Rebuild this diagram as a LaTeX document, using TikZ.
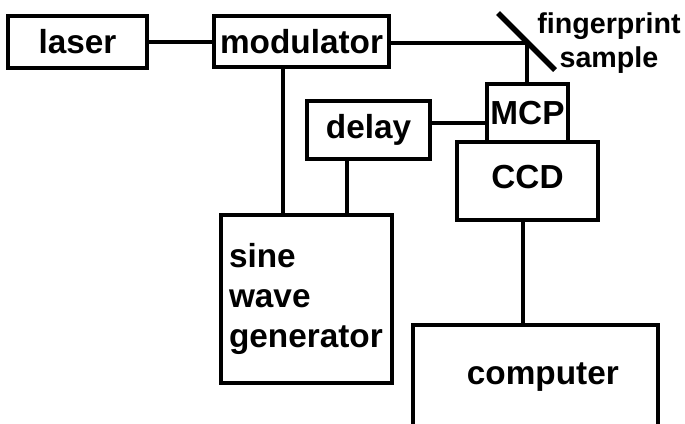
\documentclass[tikz,border=0pt]{standalone}
\usepackage{fontspec}
\setmainfont{Liberation Sans}
\begin{document}
\begin{tikzpicture}[x=0.75pt,y=-0.75pt,line width=2.5pt,
  box/.style={draw,rectangle,inner sep=0pt,font=\bfseries\fontsize{25}{30}\selectfont},
  wire/.style={draw,line width=2.5pt}]
\useasboundingbox (0,0) rectangle (685,424);
\node[box,minimum width=139*0.75pt,minimum height=52*0.75pt] (laser) at (77.5,42) {laser};
\node[box,minimum width=175*0.75pt,minimum height=51*0.75pt] (modulator) at (301.5,41.5) {modulator};
\node[box,minimum width=141*0.75pt,minimum height=78*0.75pt] (CCD) at (527.5,181) {\raisebox{6pt}{CCD}};
\node[box,minimum width=81*0.75pt,minimum height=58*0.75pt] (MCP) at (527.5,113) {MCP};
\node[box,minimum width=123*0.75pt,minimum height=58*0.75pt] (delay) at (368.5,130) {delay};
\node[box,minimum width=171*0.75pt,minimum height=168*0.75pt,align=left] (sine) at (306.5,299)
  {\raisebox{5pt}{\parbox{155\dimexpr0.75pt\relax}{sine\\wave\\generator}}};
\node[box,minimum width=245*0.75pt,minimum height=105*0.75pt] (computer) at (535.5,377.5) {\hspace*{11pt}computer};
\node[font=\bfseries\fontsize{21.5}{25.5}\selectfont,align=center,inner sep=0pt] (sample) at (609,43) {fingerprint\\sample};
\coordinate (mirror) at (527,43);
\coordinate (ma) at (498,13);
\coordinate (mb) at (555,70);
\coordinate (vx) at (283,0);
\coordinate (dx) at (347,0);
\coordinate (dy) at (0,123);
\draw[line width=4pt] (ma) -- (mb);
\draw[wire] (laser.east) -- (laser.east -| modulator.west);
\draw[wire] (modulator.east |- mirror) -- (mirror) -- (MCP.north -| mirror);
\draw[wire] (modulator.south -| vx) -- (sine.north -| vx);
\draw[wire] (delay.south -| dx) -- (sine.north -| dx);
\draw[wire] (delay.east |- dy) -- (MCP.west |- dy);
\draw[wire] (CCD.south) ++(-4.5,0) coordinate (cs) -- (cs |- computer.north);
\end{tikzpicture}
\end{document}
